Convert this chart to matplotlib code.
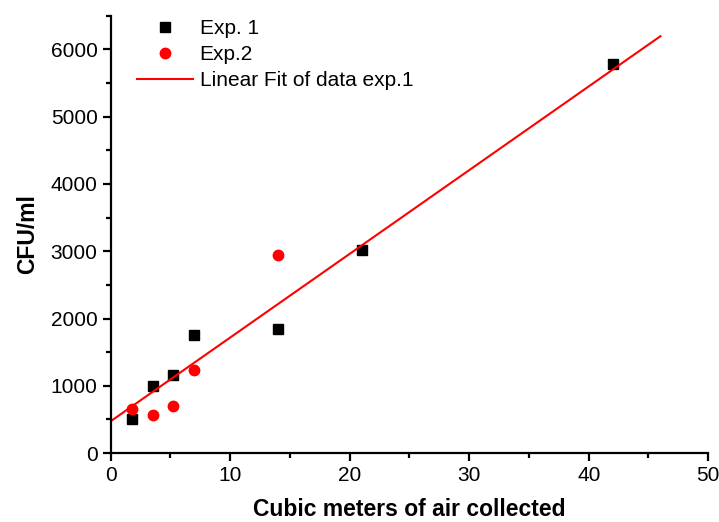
import matplotlib

matplotlib.use("Agg")
import matplotlib.pyplot as plt
import numpy as np
from matplotlib.ticker import MultipleLocator

plt.rcParams["font.family"] = ["Liberation Sans", "DejaVu Sans"]

# data
exp1_x = [1.75, 3.5, 5.25, 7, 14, 21, 42]
exp1_y = [510, 1000, 1160, 1750, 1850, 3020, 5780]
exp2_x = [1.75, 3.5, 5.25, 7, 14]
exp2_y = [650, 560, 700, 1230, 2950]
fit_range = [0, 46]

slope, icpt = np.polyfit(exp1_x, exp1_y, 1)
fit_x = np.array(fit_range)
fit_y = slope * fit_x + icpt

fig = plt.figure(figsize=(7.19, 5.22), dpi=100)
ax = fig.add_axes([0.154, 0.132, 0.831, 0.838])

ax.plot(exp1_x, exp1_y, "s", color="black", ms=6.5, lw=0, label="Exp. 1")
ax.plot(exp2_x, exp2_y, "o", color="red", ms=7.5, lw=0, label="Exp.2")
ax.plot(fit_x, fit_y, "-", color="red", lw=1.5, label="Linear Fit of data exp.1")

ax.set_xlim(0, 50)
ax.set_ylim(0, 6500)
ax.xaxis.set_major_locator(MultipleLocator(10))
ax.xaxis.set_minor_locator(MultipleLocator(5))
ax.yaxis.set_major_locator(MultipleLocator(1000))
ax.yaxis.set_minor_locator(MultipleLocator(500))

for s in ("top", "right"):
    ax.spines[s].set_visible(False)
for s in ("left", "bottom"):
    ax.spines[s].set_linewidth(1.6)
ax.tick_params(which="major", direction="out", length=6, width=1.6, labelsize=15)
ax.tick_params(which="minor", direction="out", length=3.5, width=1.6)

ax.set_xlabel("Cubic meters of air collected", fontsize=16.5, fontweight="bold", labelpad=9)
ax.set_ylabel("CFU/ml", fontsize=16.5, fontweight="bold", labelpad=8)

ax.legend(loc="upper left", bbox_to_anchor=(137 / 719, 1 - 19 / 522),
          bbox_transform=fig.transFigure, frameon=False, fontsize=15,
          handlelength=2.7, handletextpad=0.3, labelspacing=0.34,
          borderpad=0, borderaxespad=0)

fig.savefig("out.png", dpi=100)
